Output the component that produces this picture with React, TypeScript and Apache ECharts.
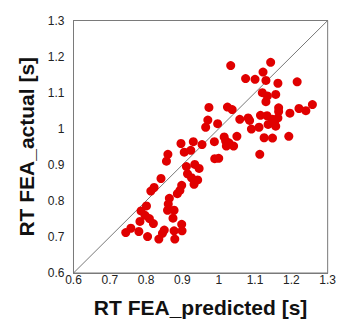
import React, { useEffect, useRef } from "react";
import * as echarts from "echarts";

const predicted: number[] = [
  1.033, 1.143, 1.122, 1.074, 1.1, 1.13, 1.163, 1.216, 1.12, 1.134,
  1.157, 1.13, 0.973, 1.024, 1.037, 1.165, 1.165, 1.221, 1.24, 1.258,
  1.196, 0.97, 0.964, 0.997, 1.058, 1.081, 1.085, 1.115, 1.133, 1.148,
  1.163, 1.136, 1.154, 1.157, 1.111, 1.09, 1.125, 1.148, 1.193, 1.05,
  0.896, 0.93, 0.954, 0.988, 1.015, 1.019, 1.028, 1.021, 1.041, 1.113,
  0.905, 0.923, 0.86, 0.856, 0.989, 1.0, 0.911, 0.934, 0.946, 0.914,
  0.925, 0.942, 0.932, 0.841, 0.822, 0.813, 0.898, 0.893, 0.886, 0.864,
  0.861, 0.859, 0.877, 0.874, 0.801, 0.786, 0.797, 0.809, 0.783, 0.82,
  0.898, 0.758, 0.744, 0.78, 0.85, 0.845, 0.877, 0.899, 0.804, 0.835,
  0.879,
];
const actual: number[] = [
  1.175, 1.184, 1.157, 1.139, 1.137, 1.134, 1.126, 1.13, 1.1, 1.091,
  1.095, 1.075, 1.059, 1.06, 1.053, 1.058, 1.048, 1.056, 1.05, 1.067,
  1.043, 1.024, 1.004, 1.014, 1.026, 1.03, 1.023, 1.037, 1.036, 1.026,
  1.03, 1.012, 1.018, 1.007, 1.004, 0.999, 0.975, 0.974, 0.979, 0.979,
  0.959, 0.964, 0.956, 0.964, 0.977, 0.966, 0.961, 0.952, 0.952, 0.929,
  0.935, 0.94, 0.929, 0.91, 0.917, 0.918, 0.895, 0.901, 0.89, 0.875,
  0.864, 0.858, 0.846, 0.862, 0.837, 0.827, 0.843, 0.829, 0.82, 0.807,
  0.791, 0.774, 0.774, 0.752, 0.786, 0.772, 0.76, 0.751, 0.743, 0.737,
  0.735, 0.724, 0.712, 0.715, 0.719, 0.71, 0.717, 0.717, 0.701, 0.694,
  0.694,
];
const axisMin = 0.6;
const axisMax = 1.3;
const identityLine: number[][] = [
  [0.6, 0.6],
  [1.3, 1.3],
];

const FONT = "Arial, 'Liberation Sans', sans-serif";

export default function App() {
  const ref = useRef<HTMLDivElement>(null);
  useEffect(() => {
    if (!ref.current) return;
    const chart = echarts.init(ref.current, null, { renderer: "svg" });
    const points = predicted.map((x, i) => [x, actual[i]]);
    chart.setOption({
      animation: false,
      backgroundColor: "#ffffff",
      grid: {
        left: 73.5,
        top: 20.5,
        right: 11,
        bottom: 49,
        show: true,
        borderColor: "#7a7a7a",
        borderWidth: 1,
        backgroundColor: "transparent",
      },
      xAxis: {
        type: "value",
        min: axisMin,
        max: axisMax,
        interval: 0.1,
        name: "RT FEA_predicted [s]",
        nameLocation: "middle",
        nameGap: 24,
        nameTextStyle: { fontFamily: FONT, fontSize: 21, fontWeight: "bold", color: "#111" },
        axisLine: { show: true, lineStyle: { color: "#7a7a7a", width: 1 } },
        axisTick: { show: false },
        splitLine: { show: false },
        axisLabel: {
          fontFamily: FONT,
          fontSize: 12,
          color: "#222",
          margin: 1,
          formatter: (v: number) => String(Math.round(v * 10) / 10),
        },
      },
      yAxis: {
        type: "value",
        min: axisMin,
        max: axisMax,
        interval: 0.1,
        name: "RT FEA_actual [s]",
        nameLocation: "middle",
        nameGap: 34,
        nameTextStyle: { fontFamily: FONT, fontSize: 21, fontWeight: "bold", color: "#111" },
        axisLine: { show: true, lineStyle: { color: "#7a7a7a", width: 1 } },
        axisTick: { show: false },
        splitLine: { show: false },
        axisLabel: {
          fontFamily: FONT,
          fontSize: 12,
          color: "#222",
          margin: 9,
          padding: [0, 0, 6, 0],
          formatter: (v: number) => String(Math.round(v * 10) / 10),
        },
      },
      series: [
        {
          type: "line",
          data: identityLine,
          symbol: "none",
          lineStyle: { color: "#555", width: 0.8 },
          silent: true,
          z: 1,
        },
        {
          type: "scatter",
          data: points,
          symbol: "circle",
          symbolSize: 9,
          itemStyle: { color: "#e00000", opacity: 1 },
          z: 2,
        },
      ],
    });
    return () => chart.dispose();
  }, []);
  return (
    <div
      ref={ref}
      style={{ position: "fixed", left: 0, top: 0, width: 339, height: 323 }}
    />
  );
}
